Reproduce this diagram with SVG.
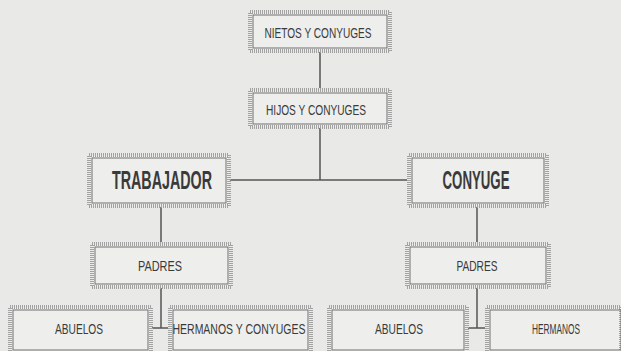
<svg xmlns="http://www.w3.org/2000/svg" width="621" height="351" viewBox="0 0 621 351">
<style>
.bg{fill:#e9e9e7}
.ob{fill:#eeeeec;stroke:#a2a2a2;stroke-width:4;stroke-dasharray:1 1}
.ib{fill:none;stroke:#707070;stroke-width:1}
.t{font-family:"Liberation Sans",Arial,sans-serif;font-size:15.5px;fill:#3a3a3a;text-anchor:middle}
.b{font-family:"Liberation Sans",Arial,sans-serif;font-size:26px;font-weight:bold;fill:#3a3a3a;text-anchor:middle}
.c line{stroke:#555;stroke-width:1.5}
</style>
<rect class="bg" x="0" y="0" width="621" height="351"/>
<g class="c">
<line x1="320" y1="52" x2="320" y2="88"/>
<line x1="320" y1="128" x2="320" y2="180"/>
<line x1="230" y1="180" x2="407" y2="180"/>
<line x1="161" y1="207" x2="161" y2="242"/>
<line x1="477" y1="207" x2="477" y2="242"/>
<line x1="161" y1="288" x2="161" y2="328"/>
<line x1="152" y1="328" x2="168" y2="328"/>
<line x1="477" y1="288" x2="477" y2="328"/>
<line x1="468" y1="328" x2="485" y2="328"/>
</g>
<g id="nietos"><rect class="ob" x="250" y="12" width="140" height="39"/><rect class="ib" x="253" y="15" width="134" height="33"/><text class="t" x="318" y="38" textLength="107" lengthAdjust="spacingAndGlyphs">NIETOS Y CONYUGES</text></g>
<g id="hijos"><rect class="ob" x="250" y="90" width="140" height="37"/><rect class="ib" x="253" y="93" width="134" height="31"/><text class="t" x="316" y="115" textLength="100" lengthAdjust="spacingAndGlyphs">HIJOS Y CONYUGES</text></g>
<g id="trabajador"><rect class="ob" x="89" y="155" width="140" height="51"/><rect class="ib" x="92" y="158" width="134" height="45"/><text class="b" x="162" y="189" textLength="100" lengthAdjust="spacingAndGlyphs">TRABAJADOR</text></g>
<g id="conyuge"><rect class="ob" x="409" y="155" width="138" height="51"/><rect class="ib" x="412" y="158" width="132" height="45"/><text class="b" x="476" y="189" textLength="67" lengthAdjust="spacingAndGlyphs">CONYUGE</text></g>
<g id="padres1"><rect class="ob" x="92" y="244" width="139" height="43"/><rect class="ib" x="95" y="247" width="133" height="37"/><text class="t" x="160" y="271" textLength="44" lengthAdjust="spacingAndGlyphs">PADRES</text></g>
<g id="padres2"><rect class="ob" x="407" y="244" width="142" height="43"/><rect class="ib" x="410" y="247" width="136" height="37"/><text class="t" x="477" y="271" textLength="41" lengthAdjust="spacingAndGlyphs">PADRES</text></g>
<g id="abuelos1"><rect class="ob" x="10" y="307" width="141" height="46"/><rect class="ib" x="13" y="310" width="135" height="40"/><text class="t" x="79" y="334" textLength="48" lengthAdjust="spacingAndGlyphs">ABUELOS</text></g>
<g id="hermanos1"><rect class="ob" x="170" y="307" width="141" height="46"/><rect class="ib" x="173" y="310" width="135" height="40"/><text class="t" x="239" y="334" textLength="133" lengthAdjust="spacingAndGlyphs">HERMANOS Y CONYUGES</text></g>
<g id="abuelos2"><rect class="ob" x="329" y="307" width="138" height="46"/><rect class="ib" x="332" y="310" width="132" height="40"/><text class="t" x="399" y="334" textLength="48" lengthAdjust="spacingAndGlyphs">ABUELOS</text></g>
<g id="hermanos2"><rect class="ob" x="487" y="307" width="134" height="46"/><rect class="ib" x="490" y="310" width="131" height="40"/><text class="t" x="556" y="334" textLength="48" lengthAdjust="spacingAndGlyphs">HERMANOS</text></g>
</svg>
